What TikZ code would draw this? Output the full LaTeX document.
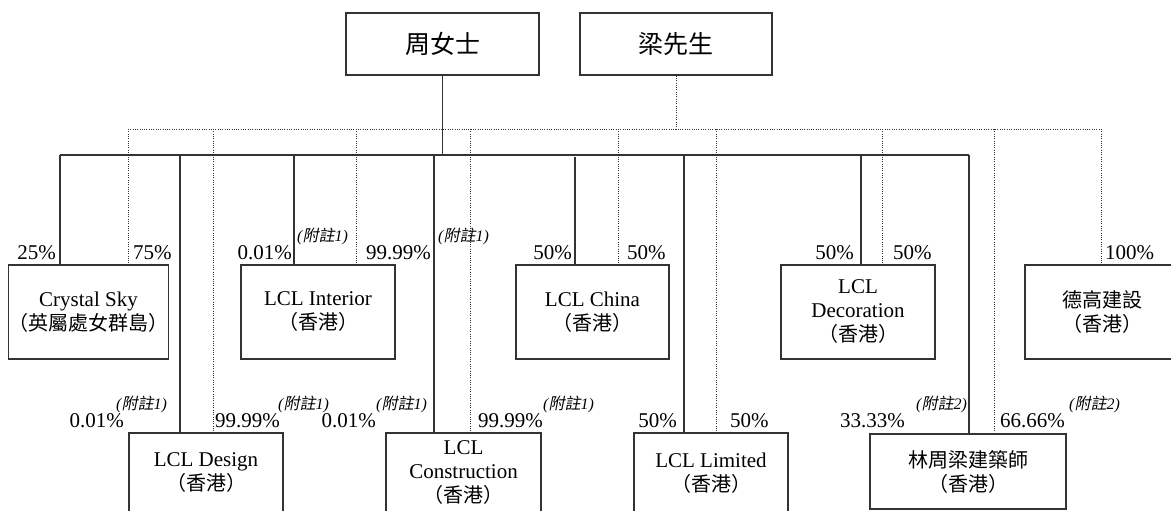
\documentclass[tikz,border=0pt]{standalone}
\usepackage{fontspec}
\setmainfont{Liberation Serif}
\newfontfamily\cjk{Noto Sans CJK TC}
\newfontfamily\cjksl[FakeSlant=0.2]{Noto Sans CJK TC}
\definecolor{linec}{HTML}{333333}
\newcommand{\zhtxt}[1]{{\cjk\fontsize{20}{24}\selectfont #1}}
\newcommand{\fnote}[1]{{\itshape(}{\cjksl 附註}{\itshape #1)}}
\begin{document}
\begin{tikzpicture}[x=1pt,y=-1pt,
  box/.style={draw=linec, line width=1.35pt, align=center, inner sep=0pt, font=\fontsize{21}{24}\selectfont},
  own/.style={draw=linec, line width=1.35pt},
  rel/.style={draw=linec, line width=1pt, dash pattern=on 1pt off 1.3pt},
  pct/.style={font=\fontsize{21}{24}\selectfont, inner sep=0pt},
  nt/.style={font=\fontsize{16}{18}\selectfont, inner sep=0pt}]
\useasboundingbox (0,0) rectangle (1171,511);
\fill[white] (0,0) rectangle (1171,511);

% top boxes
\node[box, minimum width=193pt, minimum height=62pt, font=\cjk\fontsize{25}{30}\selectfont] (zhou) at (442.5,44) {周女士};
\node[box, minimum width=192pt, minimum height=62pt, font=\cjk\fontsize{25}{30}\selectfont] (liang) at (676,44) {梁先生};

% upper row
\node[box, minimum width=155pt, minimum height=94pt] (crystal) at (88.5,312) {Crystal Sky\\\zhtxt{（英屬處女群島）}};
\node[box, minimum width=154pt, minimum height=94pt] (interior) at (318,312) {LCL Interior\\\zhtxt{（香港）}};
\node[box, minimum width=153pt, minimum height=94pt] (china) at (592.5,312) {LCL China\\\zhtxt{（香港）}};
\node[box, minimum width=154pt, minimum height=94pt] (decoration) at (858,312) {LCL\\Decoration\\\zhtxt{（香港）}};
\node[box, minimum width=155pt, minimum height=94pt] (degao) at (1102.5,312) {\zhtxt{德高建設}\\\zhtxt{（香港）}};

% lower row
\node[box, minimum width=154pt, minimum height=80pt] (design) at (206,473) {LCL Design\\\zhtxt{（香港）}};
\node[box, minimum width=155pt, minimum height=80pt] (construction) at (463.5,473) {LCL\\Construction\\\zhtxt{（香港）}};
\node[box, minimum width=154pt, minimum height=80pt] (limited) at (711,473) {LCL Limited\\\zhtxt{（香港）}};
\node[box, minimum width=196pt, minimum height=75pt] (lin) at (968,471.5) {\zhtxt{林周梁建築師}\\\zhtxt{（香港）}};

% bus coordinates
\coordinate (busS) at (0,155);
\coordinate (busD) at (0,129);
\coordinate (s1) at (60,155);
\coordinate (s2) at (180,155);
\coordinate (s3) at (294,155);
\coordinate (s4) at (434,155);
\coordinate (s5) at (575,157);
\coordinate (s6) at (684,155);
\coordinate (s7) at (861,155);
\coordinate (s8) at (969,155);
\coordinate (d1) at (128,129);
\coordinate (d2) at (213,129);
\coordinate (d3) at (356,129);
\coordinate (d4) at (470,129);
\coordinate (d5) at (618,129);
\coordinate (d6) at (716,129);
\coordinate (d7) at (882,129);
\coordinate (d8) at (994,129);
\coordinate (d9) at (1101,129);

% solid (周女士)
\draw[own] (zhou.south) -- (zhou.south |- busS);
\draw[own] (s1) -- (s8);
\draw[own] (s1) -- (s1 |- crystal.north);
\draw[own] (s2) -- (s2 |- design.north);
\draw[own] (s3) -- (s3 |- interior.north);
\draw[own] (s4) -- (s4 |- construction.north);
\draw[own] (s5) -- (s5 |- china.north);
\draw[own] (s6) -- (s6 |- limited.north);
\draw[own] (s7) -- (s7 |- decoration.north);
\draw[own] (s8) -- (s8 |- lin.north);

% dotted (梁先生)
\draw[rel] (liang.south) -- (liang.south |- busD);
\draw[rel] (d1) -- (d9);
\draw[rel] (d1) -- (d1 |- crystal.north);
\draw[rel] (d2) -- (d2 |- design.north);
\draw[rel] (d3) -- (d3 |- interior.north);
\draw[rel] (d4) -- (d4 |- construction.north);
\draw[rel] (d5) -- (d5 |- china.north);
\draw[rel] (d6) -- (d6 |- limited.north);
\draw[rel] (d7) -- (d7 |- decoration.north);
\draw[rel] (d8) -- (d8 |- lin.north);
\draw[rel] (d9) -- (d9 |- degao.north);

% percentages, upper row
\node[pct, anchor=base east] (p1) at (56,259) {25\%};
\node[pct, anchor=base west] (p2) at (133,259) {75\%};
\node[pct, anchor=base east] (p3) at (292,259) {0.01\%};
\node[nt, anchor=base west] (n1) at (297,241) {\fnote{1}};
\node[pct, anchor=base west] (p4) at (366,259) {99.99\%};
\node[nt, anchor=base west] (n2) at (438,241) {\fnote{1}};
\node[pct, anchor=base east] (p5) at (572,259) {50\%};
\node[pct, anchor=base west] (p6) at (627,259) {50\%};
\node[pct, anchor=base east] (p7) at (854,259) {50\%};
\node[pct, anchor=base west] (p8) at (893,259) {50\%};
\node[pct, anchor=base west] (p9) at (1105,259) {100\%};

% percentages, lower row
\node[pct, anchor=base east] (q1) at (124,427) {0.01\%};
\node[nt, anchor=base west] (m1) at (116,409) {\fnote{1}};
\node[pct, anchor=base west] (q2) at (215,427) {99.99\%};
\node[nt, anchor=base west] (m2) at (278,409) {\fnote{1}};
\node[pct, anchor=base east] (q3) at (376,427) {0.01\%};
\node[nt, anchor=base west] (m3) at (376,409) {\fnote{1}};
\node[pct, anchor=base west] (q4) at (478,427) {99.99\%};
\node[nt, anchor=base west] (m4) at (543,409) {\fnote{1}};
\node[pct, anchor=base east] (q5) at (677,427) {50\%};
\node[pct, anchor=base west] (q6) at (730,427) {50\%};
\node[pct, anchor=base east] (q7) at (905,427) {33.33\%};
\node[nt, anchor=base west] (m5) at (916,409) {\fnote{2}};
\node[pct, anchor=base west] (q8) at (1000,427) {66.66\%};
\node[nt, anchor=base west] (m6) at (1069,409) {\fnote{2}};
\end{tikzpicture}
\end{document}
